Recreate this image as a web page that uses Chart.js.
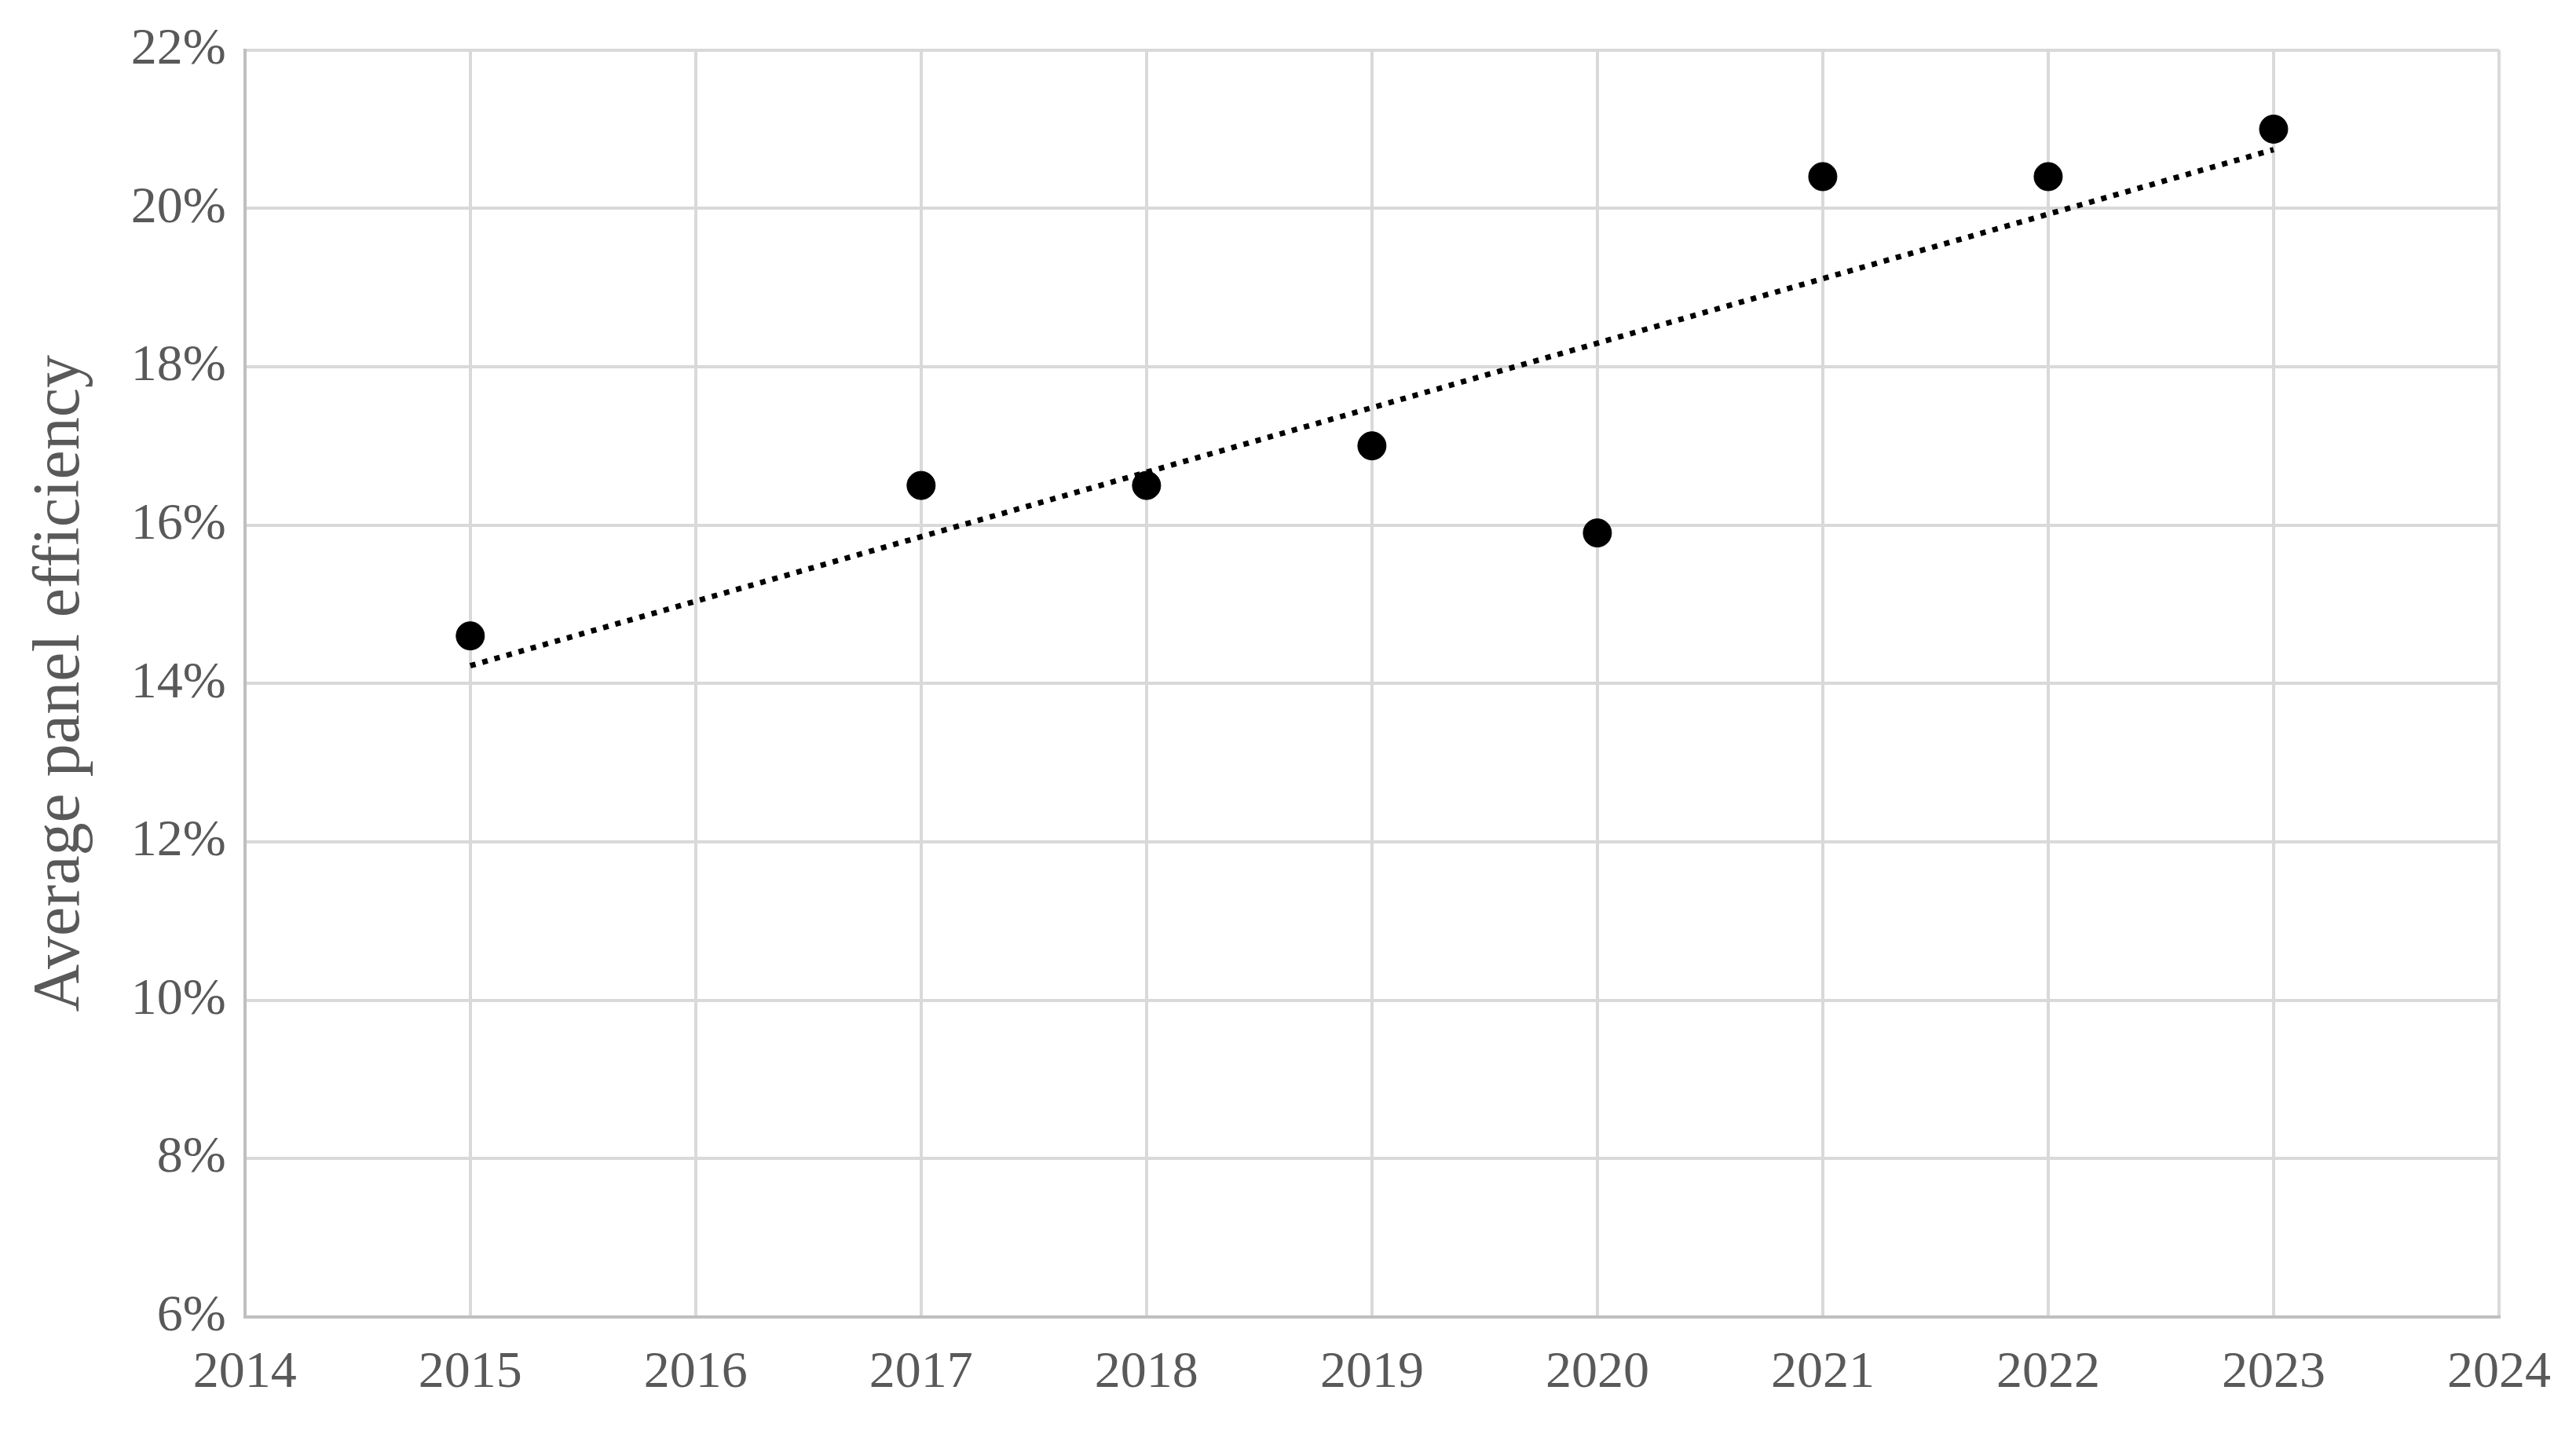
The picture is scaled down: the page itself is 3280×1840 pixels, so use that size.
<!DOCTYPE html>
<html><head><meta charset="utf-8">
<script src="https://cdn.jsdelivr.net/npm/chart.js@4/dist/chart.umd.min.js"></script>
<style>html,body{margin:0;background:#fff}#w{width:3280px;height:1840px}</style>
</head><body><div id="w"><canvas id="c"></canvas></div>
<script>
const years = [2015, 2017, 2018, 2019, 2020, 2021, 2022, 2023];
const efficiency = [14.6, 16.5, 16.5, 17.0, 15.9, 20.4, 20.4, 21.0];
const xTicks = [2014,2015,2016,2017,2018,2019,2020,2021,2022,2023,2024];
const yTicks = [6,8,10,12,14,16,18,20,22];
// linear trendline (least squares) from the data
const n = years.length;
const mx = years.reduce((a,b)=>a+b,0)/n, my = efficiency.reduce((a,b)=>a+b,0)/n;
let sxy=0,sxx=0; years.forEach((x,i)=>{sxy+=(x-mx)*(efficiency[i]-my);sxx+=(x-mx)**2;});
const slope=sxy/sxx, icpt=my-slope*mx;
const trend=[{x:2015,y:icpt+slope*2015},{x:2023,y:icpt+slope*2023}];
const font={family:"'Liberation Serif','DejaVu Serif',serif",size:66};
new Chart(document.getElementById('c'),{
 type:'scatter',
 data:{datasets:[
  {data:years.map((x,i)=>({x,y:efficiency[i]})),backgroundColor:'#000',borderColor:'#000',pointRadius:18,pointHoverRadius:18},
  {type:'line',data:trend,borderColor:'#000',borderWidth:7,borderDash:[7,9],pointRadius:0,fill:false}
 ]},
 options:{responsive:true,maintainAspectRatio:false,animation:false,
  layout:{padding:{left:14,right:70,top:52,bottom:20}},
  plugins:{legend:{display:false},tooltip:{enabled:false}},
  scales:{
   x:{type:'linear',min:2014,max:2024,afterBuildTicks:a=>{a.ticks=xTicks.map(v=>({value:v}))},
      grid:{color:'#d9d9d9',lineWidth:4,drawTicks:false},border:{color:'#bfbfbf',width:4},
      ticks:{font,color:'#595959',padding:32,callback:v=>String(v)}},
   y:{min:6,max:22,afterBuildTicks:a=>{a.ticks=yTicks.map(v=>({value:v}))},
      grid:{color:'#d9d9d9',lineWidth:4,drawTicks:false},border:{color:'#bfbfbf',width:4},
      ticks:{font,color:'#595959',padding:24,callback:v=>v+'%'},
      title:{display:true,text:'Average panel efficiency',font:{...font,size:84},color:'#595959',padding:14}}
  }}
});
</script></body></html>
